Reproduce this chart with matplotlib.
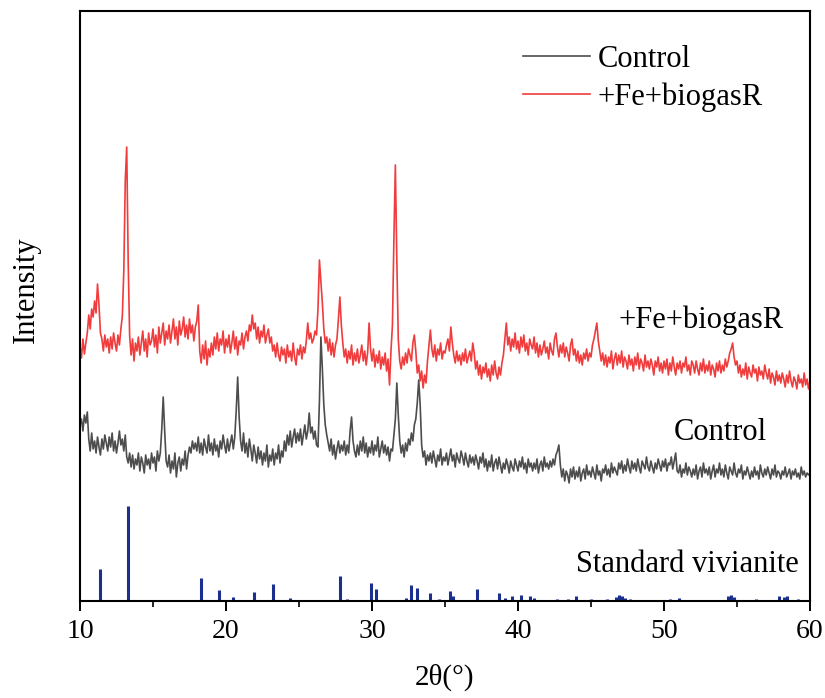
import matplotlib
matplotlib.use("Agg")
import matplotlib.pyplot as plt
from matplotlib.ticker import MultipleLocator
import numpy as np

plt.rcParams['font.family'] = ['Liberation Serif', 'DejaVu Serif']

# 2-theta grid (0.1 deg steps from 10 to 60)
two_theta = np.round(np.arange(10.0, 60.01, 0.1), 1)

# +Fe+biogasR pattern (arbitrary intensity units)
fe_biogas = [
    255, 243, 262, 247, 258, 268, 286, 272, 292, 284,   # 10
    300, 288, 317, 296, 268, 262, 250, 266, 254, 262,   # 11
    248, 264, 252, 268, 258, 250, 266, 256, 272, 285,   # 12
    330, 420, 454, 340, 265, 246, 262, 240, 258, 250,   # 13
    264, 246, 258, 270, 250, 262, 244, 268, 256, 260,   # 14
    272, 254, 266, 248, 274, 258, 268, 278, 256, 270,   # 15
    262, 276, 258, 270, 282, 262, 274, 256, 280, 266,   # 16
    272, 284, 264, 276, 262, 282, 268, 276, 260, 274,   # 17
    280, 296, 250, 238, 256, 242, 260, 236, 252, 244,   # 18
    258, 246, 264, 252, 268, 250, 262, 256, 270, 248,   # 19
    262, 254, 266, 248, 258, 270, 252, 264, 246, 260,   # 20
    256, 268, 252, 264, 270, 260, 276, 270, 286, 272,   # 21
    278, 262, 274, 258, 270, 264, 276, 258, 266, 272,   # 22
    258, 264, 250, 256, 244, 258, 246, 240, 254, 246,   # 23
    252, 238, 256, 244, 250, 240, 258, 244, 236, 252,   # 24
    246, 256, 242, 254, 248, 260, 278, 262, 268, 258,   # 25
    262, 270, 266, 292, 341, 320, 298, 272, 258, 264,   # 26
    250, 262, 246, 258, 244, 256, 262, 282, 304, 276,   # 27
    258, 244, 252, 238, 250, 242, 256, 236, 248, 240,   # 28
    252, 238, 246, 256, 240, 250, 236, 248, 278, 252,   # 29
    240, 252, 234, 246, 238, 250, 232, 244, 236, 248,   # 30
    230, 242, 216, 250, 276, 362, 436, 342, 262, 240,   # 31
    232, 244, 236, 248, 238, 252, 246, 240, 258, 266,   # 32
    250, 228, 236, 220, 230, 213, 226, 218, 240, 256,   # 33
    271, 252, 244, 256, 240, 252, 246, 258, 242, 250,   # 34
    248, 256, 262, 250, 274, 258, 246, 238, 250, 240,   # 35
    246, 236, 248, 240, 252, 238, 244, 250, 240, 258,   # 36
    248, 232, 240, 226, 236, 222, 234, 228, 238, 224,   # 37
    232, 220, 236, 226, 240, 228, 222, 234, 226, 238,   # 38
    246, 262, 278, 256, 264, 250, 262, 254, 268, 252,   # 39
    260, 248, 264, 254, 266, 250, 258, 246, 262, 256,   # 40
    252, 264, 248, 258, 244, 256, 246, 252, 260, 248,   # 41
    254, 242, 258, 250, 246, 262, 268, 254, 244, 256,   # 42
    248, 258, 244, 254, 248, 240, 256, 262, 246, 252,   # 43
    240, 250, 238, 246, 236, 248, 242, 252, 240, 248,   # 44
    244, 256, 262, 270, 278, 260, 250, 240, 248, 236,   # 45
    246, 234, 244, 238, 250, 232, 242, 248, 236, 246,   # 46
    238, 250, 234, 244, 240, 232, 246, 236, 242, 230,   # 47
    244, 236, 248, 232, 242, 238, 230, 246, 234, 240,   # 48
    232, 242, 236, 226, 240, 234, 244, 230, 238, 228,   # 49
    240, 232, 242, 226, 238, 230, 244, 234, 226, 238,   # 50
    232, 240, 228, 238, 234, 244, 230, 236, 226, 240,   # 51
    236, 228, 240, 232, 226, 238, 230, 242, 228, 236,   # 52
    230, 240, 226, 236, 232, 224, 238, 230, 240, 228,   # 53
    236, 230, 242, 234, 240, 248, 252, 258, 244, 236,   # 54
    240, 228, 236, 224, 232, 226, 238, 222, 234, 228,   # 55
    224, 236, 228, 232, 220, 234, 226, 230, 222, 236,   # 56
    228, 222, 232, 218, 228, 224, 216, 230, 220, 226,   # 57
    218, 228, 222, 214, 226, 218, 230, 220, 214, 224,   # 58
    220, 212, 226, 218, 222, 214, 228, 216, 222, 212,   # 59
    220,
]

# Control pattern
control = [
    176, 182, 170, 186, 178, 189, 162, 150, 168, 152,   # 10
    160, 148, 164, 154, 146, 162, 152, 166, 158, 150,   # 11
    164, 154, 168, 150, 160, 148, 158, 170, 156, 162,   # 12
    150, 166, 144, 138, 148, 134, 146, 132, 142, 136,   # 13
    148, 130, 144, 138, 128, 146, 136, 142, 132, 148,   # 14
    138, 144, 130, 150, 140, 148, 172, 204, 170, 140,   # 15
    134, 146, 128, 140, 132, 148, 124, 138, 144, 130,   # 16
    142, 136, 150, 132, 146, 154, 148, 160, 152, 158,   # 17
    150, 164, 148, 158, 146, 162, 154, 148, 166, 150,   # 18
    158, 146, 162, 150, 156, 144, 160, 152, 166, 156,   # 19
    148, 162, 150, 158, 166, 152, 164, 190, 224, 184,   # 20
    160, 150, 168, 148, 158, 144, 162, 152, 140, 156,   # 21
    148, 138, 154, 142, 150, 136, 148, 140, 156, 134,   # 22
    146, 140, 152, 136, 148, 142, 156, 138, 150, 144,   # 23
    160, 150, 166, 156, 170, 154, 164, 172, 158, 168,   # 24
    160, 172, 156, 166, 176, 162, 170, 188, 168, 174,   # 25
    162, 170, 156, 154, 200, 264, 232, 196, 176, 166,   # 26
    158, 150, 162, 146, 156, 142, 152, 160, 148, 156,   # 27
    150, 160, 146, 156, 148, 170, 184, 160, 150, 144,   # 28
    156, 146, 160, 150, 164, 148, 158, 144, 154, 148,   # 29
    160, 146, 156, 150, 164, 144, 152, 160, 148, 156,   # 30
    146, 154, 140, 152, 150, 166, 182, 218, 186, 160,   # 31
    148, 156, 144, 158, 150, 162, 156, 168, 160, 176,   # 32
    182, 198, 221, 196, 156, 144, 150, 136, 146, 140,   # 33
    148, 138, 150, 142, 134, 146, 140, 152, 136, 144,   # 34
    140, 148, 136, 144, 152, 140, 146, 134, 148, 142,   # 35
    138, 150, 144, 136, 148, 140, 134, 146, 138, 144,   # 36
    136, 146, 140, 132, 144, 138, 148, 134, 142, 130,   # 37
    140, 134, 146, 130, 138, 142, 132, 144, 136, 128,   # 38
    138, 132, 142, 136, 128, 140, 134, 130, 142, 136,   # 39
    130, 140, 134, 144, 132, 138, 128, 142, 134, 138,   # 40
    130, 138, 132, 142, 128, 136, 140, 130, 144, 134,   # 41
    138, 132, 140, 134, 142, 136, 146, 150, 156, 136,   # 42
    124, 132, 120, 130, 126, 118, 132, 124, 134, 122,   # 43
    130, 124, 134, 120, 128, 132, 122, 136, 126, 130,   # 44
    124, 134, 128, 122, 136, 126, 130, 120, 132, 128,   # 45
    136, 126, 132, 124, 138, 128, 134, 130, 126, 138,   # 46
    132, 140, 128, 136, 130, 142, 134, 128, 140, 132,   # 47
    138, 130, 142, 134, 128, 140, 136, 132, 144, 134,   # 48
    130, 140, 134, 128, 138, 132, 142, 136, 130, 140,   # 49
    134, 142, 130, 138, 136, 144, 132, 140, 148, 130,   # 50
    128, 136, 124, 132, 128, 138, 126, 134, 130, 124,   # 51
    132, 126, 136, 122, 130, 134, 124, 138, 128, 132,   # 52
    126, 134, 122, 130, 136, 124, 132, 128, 138, 126,   # 53
    132, 124, 136, 128, 122, 134, 130, 126, 138, 128,   # 54
    124, 132, 128, 136, 122, 130, 126, 134, 128, 122,   # 55
    130, 124, 134, 126, 130, 122, 136, 128, 124, 132,   # 56
    126, 134, 128, 122, 132, 126, 136, 124, 130, 128,   # 57
    122, 130, 126, 134, 124, 128, 132, 122, 130, 126,   # 58
    132, 124, 128, 122, 134, 126, 130, 124, 128, 126,   # 59
    128,
]

# Standard vivianite reference sticks
viv_pos = [11.37, 13.3, 18.3, 19.5, 20.5, 21.9, 23.2, 23.6, 24.4, 26.7,
           27.8, 28.3, 29.9, 30.25, 30.9, 32.3, 32.7, 33.05, 34.0, 34.6,
           35.35, 35.55, 37.2, 38.7, 39.1, 39.6, 40.2, 40.8, 41.1, 42.7,
           43.4, 44.0, 45.0, 46.1, 46.7, 46.9, 47.1, 47.3, 47.7, 50.4,
           51.0, 54.4, 54.6, 54.8, 56.3, 57.9, 58.2, 58.4, 59.2]
viv_int = [32, 95, 23, 11, 4, 9, 17, 1, 3, 1.5,
           25, 2, 18, 12, 1, 3, 16, 13, 8, 2.5,
           10, 5, 12, 8, 3, 5, 6, 5, 3, 2,
           2, 5, 2, 2, 4, 6, 5, 3, 2, 2,
           3, 5, 6, 4, 2, 5, 4, 5, 2]

fig = plt.figure(figsize=(8.25, 6.98), dpi=100)
ax = fig.add_axes([80/825, 1 - 601/698, 730/825, 590/698])

ax.plot(two_theta, control, color='#4d4d4d', lw=1.2, label='Control')
ax.plot(two_theta, fe_biogas, color='#f03c3c', lw=1.2, label='+Fe+biogasR')
ax.vlines(viv_pos, 0, viv_int, color='#1c2f8f', lw=2.2)

ax.text(46.9, 281, '+Fe+biogasR', fontsize=22, va='center', ha='left')
ax.text(50.7, 168, 'Control', fontsize=22, va='center', ha='left')
ax.text(44.0, 36, 'Standard vivianite', fontsize=22, va='center', ha='left')

ax.set_xlim(10, 60)
ax.set_ylim(0, 590)
ax.set_yticks([])
ax.xaxis.set_major_locator(MultipleLocator(10))
ax.xaxis.set_minor_locator(MultipleLocator(5))
ax.tick_params(axis='x', which='major', direction='out', length=7, width=1.4,
               labelsize=20, pad=6)
ax.tick_params(axis='x', which='minor', direction='out', length=4, width=1.2)
for sp in ax.spines.values():
    sp.set_linewidth(1.5)

ax.set_xlabel('2θ(°)', fontsize=21, labelpad=14)
ax.set_ylabel('Intensity', fontsize=22)
ax.yaxis.set_label_coords(-0.053, 0.527)

ax.legend(loc='upper left', bbox_to_anchor=(523/825, 1 - 45/698),
          bbox_transform=fig.transFigure, frameon=False, fontsize=22,
          handlelength=2.2, handletextpad=0.25, labelspacing=0.28,
          borderpad=0, borderaxespad=0)

fig.savefig('out.png', dpi=100)
